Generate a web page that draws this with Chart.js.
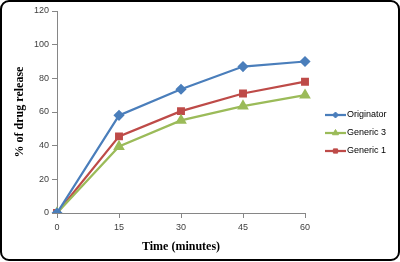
<!DOCTYPE html>
<html>
<head>
<meta charset="utf-8">
<script src="https://cdn.jsdelivr.net/npm/chart.js@4/dist/chart.umd.min.js"></script>
<style>
  body { margin: 0; background: #fff; }
  .wrap { position: relative; width: 400px; height: 262px; }
  canvas { position: absolute; left: 0; top: 0; }
  .frame {
    position: absolute; left: 0; top: 0; width: 396px; height: 257px;
    border: 2px solid #000; border-radius: 9px; pointer-events: none;
  }
</style>
</head>
<body>
<div class="wrap">
  <canvas id="chart" width="400" height="262"></canvas>
  <div class="frame"></div>
</div>
<script>
const times = ["0", "15", "30", "45", "60"];
const originator = [0, 58, 73.5, 87, 90];
const generic3 = [0, 39.5, 55, 63.5, 70];
const generic1 = [0, 45.5, 60.5, 71, 78];

const seriesNames = ["Originator", "Generic 3", "Generic 1"];
const seriesColors = ["#4a7ebb", "#9bbb59", "#be4b48"];
const seriesPoints = ["rectRot", "triangle", "rect"];
const seriesRadius = [4, 4.5, 4];

const tickFont = { family: "'Liberation Sans', Arial, sans-serif", size: 9 };
const titleFont = { family: "'Liberation Serif', 'Times New Roman', serif", size: 12, weight: "bold" };

// legend: line sample with marker, like the spreadsheet one
const sideLegend = {
  id: "sideLegend",
  afterDraw(chart) {
    const ctx = chart.ctx;
    chart.data.datasets.forEach((ds, i) => {
      const y = 115 + i * 18;
      ctx.save();
      ctx.strokeStyle = ds.borderColor;
      ctx.fillStyle = ds.borderColor;
      ctx.lineWidth = 2.25;
      ctx.beginPath();
      ctx.moveTo(325, y);
      ctx.lineTo(346, y);
      ctx.stroke();
      ctx.lineWidth = 1;
      Chart.helpers.drawPoint(ctx, {
        pointStyle: ds.pointStyle, radius: ds.pointRadius - 1, borderWidth: 1
      }, 335.5, y);
      ctx.fillStyle = "#000";
      ctx.font = "9px 'Liberation Sans', Arial, sans-serif";
      ctx.textBaseline = "middle";
      ctx.fillText(ds.label, 347, y);
      ctx.restore();
    });
  }
};

const makeSet = (i, data) => ({
  label: seriesNames[i],
  data,
  borderColor: seriesColors[i],
  backgroundColor: seriesColors[i],
  pointBackgroundColor: seriesColors[i],
  pointBorderColor: seriesColors[i],
  pointStyle: seriesPoints[i],
  pointRadius: seriesRadius[i],
  borderWidth: 2.25,
  tension: 0,
});

new Chart(document.getElementById("chart"), {
  type: "line",
  data: {
    labels: times,
    datasets: [makeSet(0, originator), makeSet(1, generic3), makeSet(2, generic1)],
  },
  options: {
    responsive: false,
    animation: false,
    layout: { padding: { left: 9, right: 95, top: 11, bottom: 4 } },
    plugins: {
      legend: { display: false },
      tooltip: { enabled: false },
    },
    scales: {
      x: {
        offset: false,
        grid: { display: true, drawOnChartArea: false, tickLength: 5, color: "#868686" },
        border: { color: "#868686" },
        ticks: { color: "#404040", font: tickFont, padding: 4, maxRotation: 0 },
        title: { display: true, text: "Time (minutes)", color: "#000", font: titleFont },
        afterFit: (s) => { s.height = 45; },
      },
      y: {
        min: 0,
        max: 120,
        ticks: { stepSize: 20, color: "#404040", font: tickFont, padding: 3 },
        grid: { display: true, drawOnChartArea: false, tickLength: 5, color: "#868686" },
        border: { color: "#868686" },
        title: { display: true, text: "% of drug release", color: "#000", font: titleFont },
        afterFit: (s) => { s.width = 48; },
      },
    },
  },
  plugins: [sideLegend],
});
</script>
</body>
</html>
